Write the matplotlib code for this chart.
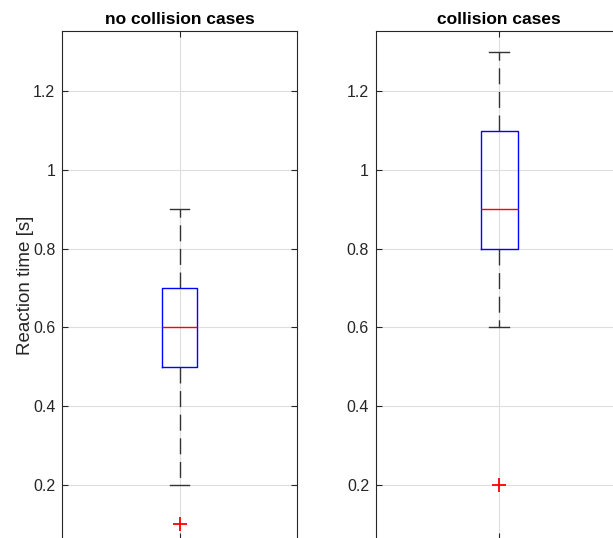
import matplotlib
matplotlib.use("Agg")
import matplotlib.pyplot as plt

plt.rcParams['font.family'] = ['Liberation Sans', 'DejaVu Sans']
plt.rcParams['lines.scale_dashes'] = False

titles = ["no collision cases", "collision cases"]
whisker_low = [0.2, 0.6]
q1 = [0.5, 0.8]
median = [0.6, 0.9]
q3 = [0.7, 1.1]
whisker_high = [0.9, 1.3]
outliers = [[0.1], [0.2]]
yticks = [0.2, 0.4, 0.6, 0.8, 1.0, 1.2]
ytick_labels = ["0.2", "0.4", "0.6", "0.8", "1", "1.2"]
ylabel = "Reaction time [s]"

W, H = 613, 538
fig = plt.figure(figsize=(W / 100, H / 100), dpi=100)

# axes in pixel coords: (left, top, width, bottom)
axes_px = [(62.3, 31, 234.7, 539), (376.0, 31, 246.4, 539)]
txt = '#262626'

for i, (l, t, w, b) in enumerate(axes_px):
    ax = fig.add_axes([l / W, 1 - b / H, w / W, (b - t) / H])
    stats = [dict(med=median[i], q1=q1[i], q3=q3[i],
                  whislo=whisker_low[i], whishi=whisker_high[i],
                  fliers=outliers[i], label='')]
    ax.bxp(stats, positions=[1], widths=0.15, showfliers=True,
           boxprops=dict(color='#0000ff', linewidth=1.0),
           medianprops=dict(color='#ff0000', linewidth=1.0),
           whiskerprops=dict(color='#333333', linewidth=1.0,
                             linestyle=(0, (11.5, 5.5))),
           capprops=dict(color='#333333', linewidth=1.0),
           flierprops=dict(marker='+', markeredgecolor='#ff0000',
                           markersize=10, markeredgewidth=1.3,
                           linestyle='none'),
           capwidths=0.08)
    ax.set_xlim(0.5, 1.5)
    ax.set_ylim(0.062, 1.3533)
    ax.set_yticks(yticks)
    ax.set_yticklabels(ytick_labels)
    ax.set_xticks([1])
    ax.set_xticklabels([''])
    ax.grid(True, color='#dedede', linewidth=0.8)
    ax.set_axisbelow(True)
    ax.tick_params(direction='in', length=4, width=0.8, colors=txt,
                   labelsize=11.5, top=True, right=True, pad=5)
    for s in ax.spines.values():
        s.set_color(txt)
        s.set_linewidth(0.8)
    ax.set_title(titles[i], fontsize=12.5, fontweight='bold', color='black', pad=5)
    if i == 0:
        ax.set_ylabel(ylabel, fontsize=13.5, color=txt, labelpad=-0.5)

fig.savefig("out.png", dpi=100)
